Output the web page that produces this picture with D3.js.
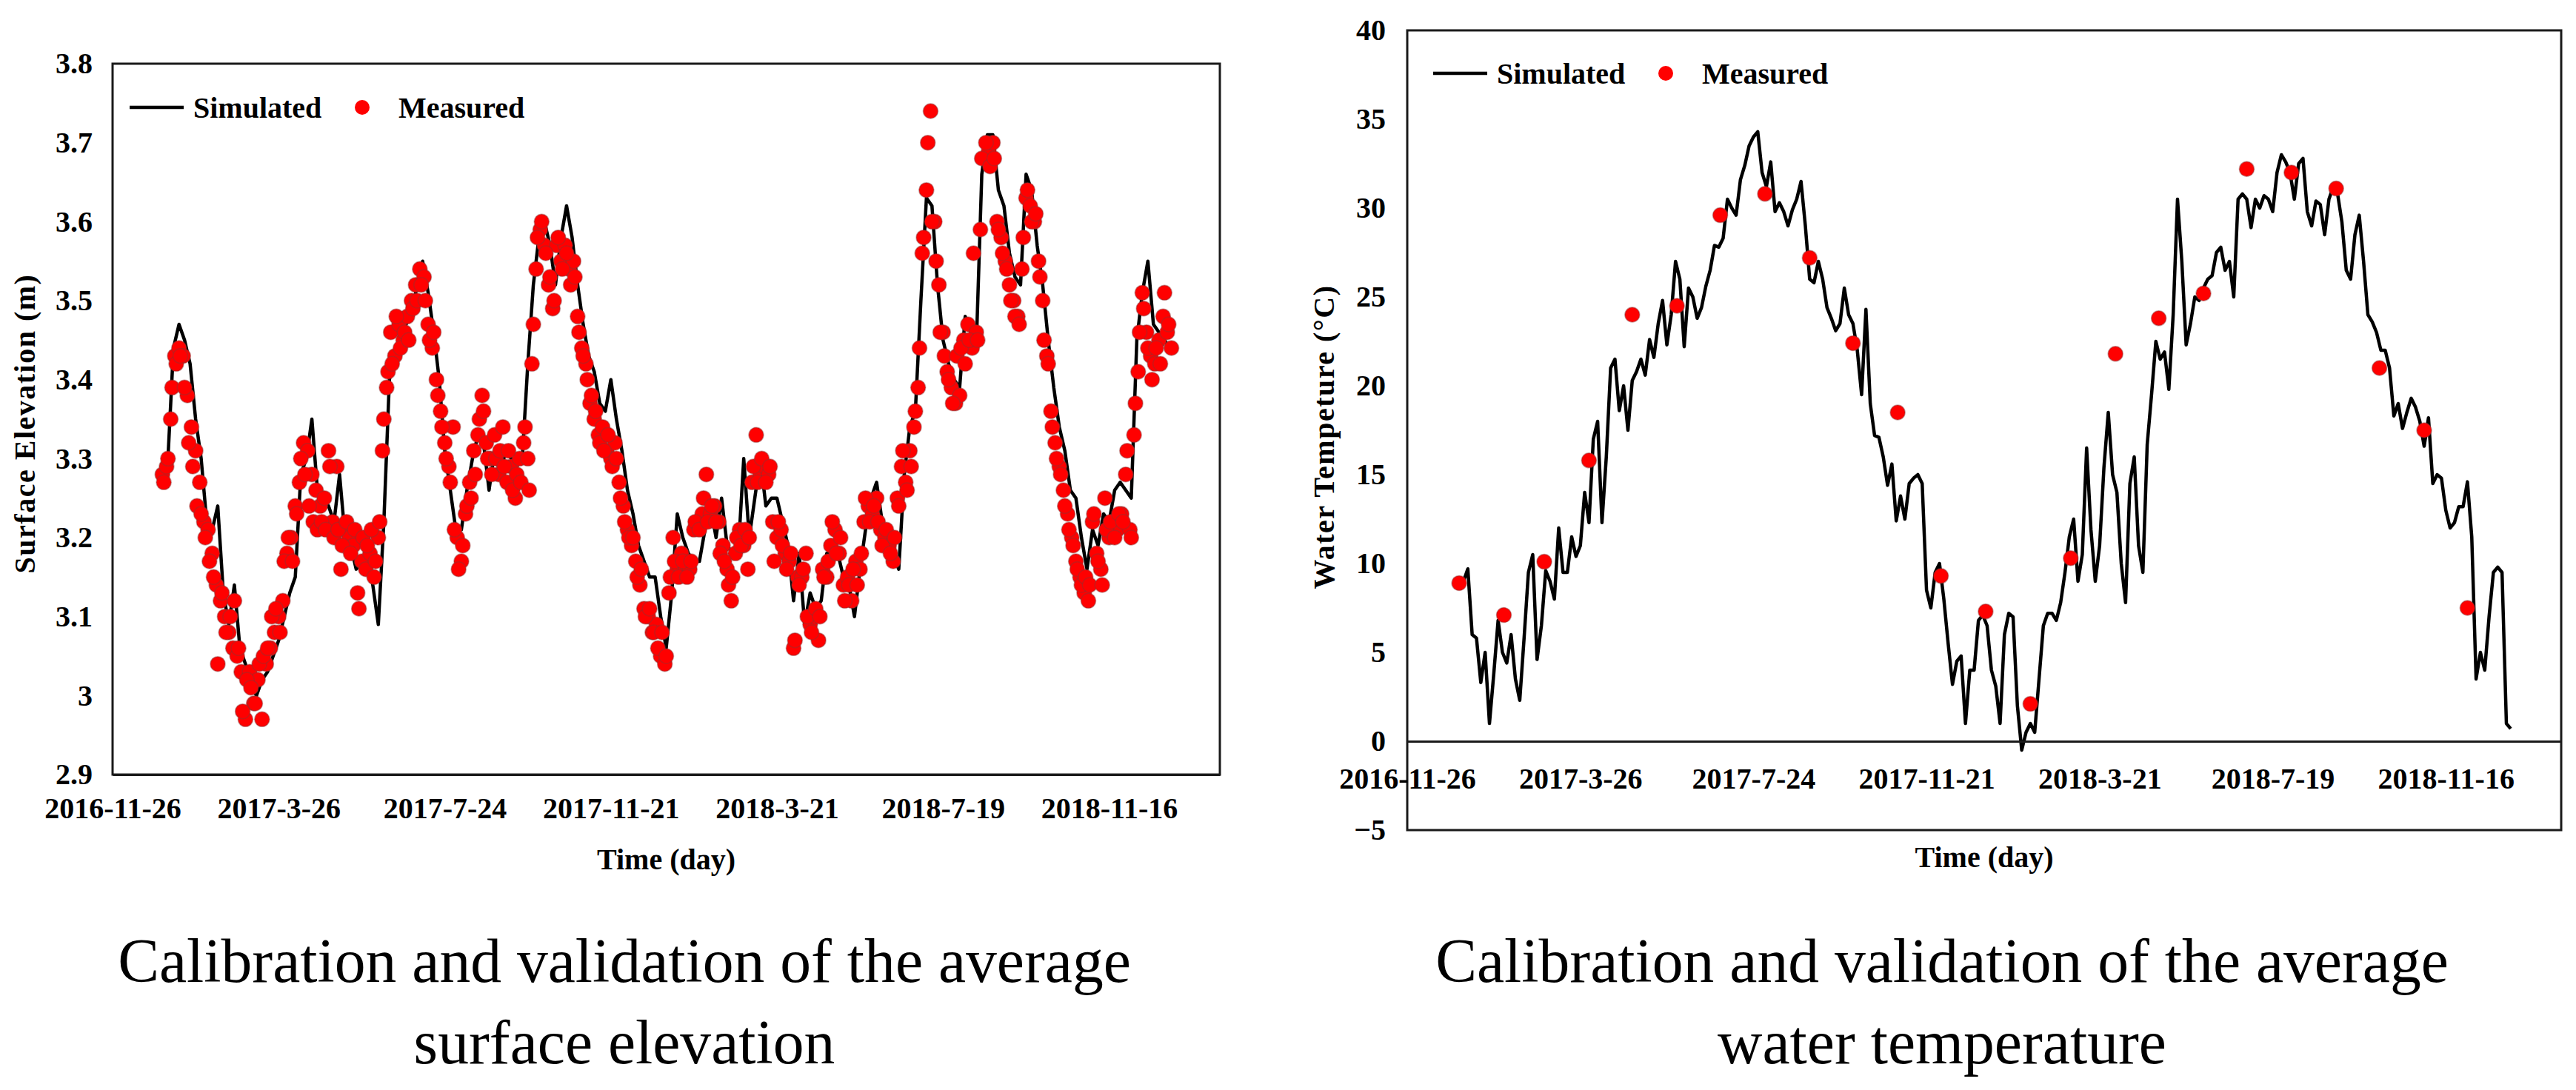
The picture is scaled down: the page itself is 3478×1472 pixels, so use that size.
<!DOCTYPE html>
<html>
<head>
<meta charset="utf-8">
<script src="https://cdn.jsdelivr.net/npm/d3@7"></script>
<style>
  html, body { margin: 0; padding: 0; background: #fff; }
  svg { display: block; }
  .lbl { font-family: "Liberation Serif", "Times New Roman", serif; font-weight: bold; fill: #000; }
  .caption { font-family: "Liberation Serif", "Times New Roman", serif; fill: #000; }
</style>
</head>
<body>
<svg id="chart"></svg>
<script>
// ---- data ----
const axisStart = "2016-11-26"
const axisDays = 800
const xTickLabels = ["2016-11-26", "2017-3-26", "2017-7-24", "2017-11-21", "2018-3-21", "2018-7-19", "2018-11-16"]

const elevationTicks = [2.9, 3, 3.1, 3.2, 3.3, 3.4, 3.5, 3.6, 3.7, 3.8]
const temperatureTicks = [-5, 0, 5, 10, 15, 20, 25, 30, 35, 40]

// surface elevation (m), simulated every 4 days from 2017-01-01
const simElevStart = "2017-01-01"
const simElevStep = 4
const simulatedElevation = [
  3.29, 3.30, 3.44, 3.47, 3.45, 3.42, 3.35, 3.30, 3.22, 3.21,
  3.24, 3.13, 3.09, 3.14, 3.06, 3.04, 3.01, 3.00, 3.02, 3.03,
  3.05, 3.07, 3.10, 3.13, 3.15, 3.28, 3.30, 3.35, 3.26, 3.25,
  3.24, 3.22, 3.28, 3.20, 3.19, 3.16, 3.17, 3.17, 3.14, 3.09,
  3.22, 3.40, 3.43, 3.45, 3.47, 3.48, 3.52, 3.55, 3.51, 3.46,
  3.40, 3.31, 3.26, 3.21, 3.21, 3.26, 3.30, 3.33, 3.32, 3.26,
  3.31, 3.28, 3.31, 3.30, 3.29, 3.30, 3.42,
  3.52, 3.58, 3.60, 3.57, 3.52, 3.58, 3.62, 3.58, 3.52, 3.47,
  3.43, 3.41, 3.37, 3.36, 3.40, 3.35, 3.31, 3.26, 3.23, 3.19,
  3.17, 3.15, 3.15, 3.10, 3.06, 3.13, 3.23, 3.20, 3.18, 3.17,
  3.17, 3.21, 3.24, 3.20, 3.25, 3.19, 3.18, 3.18, 3.30, 3.20,
  3.25, 3.30, 3.24, 3.25, 3.25, 3.22, 3.19, 3.12, 3.18, 3.09,
  3.13, 3.11, 3.12, 3.18, 3.18, 3.18, 3.15, 3.14, 3.10, 3.16,
  3.21, 3.25, 3.27, 3.22, 3.19, 3.18, 3.16,
  3.28, 3.34, 3.36, 3.50, 3.63, 3.62, 3.52, 3.45, 3.42, 3.40,
  3.39, 3.48, 3.46, 3.44, 3.66, 3.71, 3.71, 3.64, 3.62, 3.56,
  3.53, 3.52, 3.66, 3.64, 3.57, 3.52, 3.45, 3.39, 3.34, 3.31,
  3.26, 3.25, 3.20, 3.16, 3.21, 3.19, 3.23, 3.22, 3.26, 3.27,
  3.26, 3.25, 3.45, 3.51, 3.55, 3.47, 3.46, 3.45, 3.44
]

// surface elevation (m), measured: two interleaved runs, each every 3 days
const measElevStep = 3
const measElevStartA = "2017-01-01"
const measuredElevationA = [
  3.28, 3.29, 3.35, 3.43, 3.44, 3.43, 3.38, 3.34, 3.31, 3.27,
  3.22, 3.21, 3.18, 3.14, 3.12, 3.10, 3.08, 3.06, 3.05, 3.03,
  2.97, 3.03, 2.99, 3.02, 2.97, 3.04, 3.06, 3.08, 3.10, 3.12,
  3.18, 3.20, 3.24, 3.27, 3.32, 3.31, 3.28, 3.26, 3.24, 3.25,
  3.31, 3.22, 3.29, 3.16, 3.21, 3.20, 3.19, 3.13, 3.17, 3.16,
  3.18, 3.15, 3.20, 3.31, 3.39, 3.46, 3.43, 3.47, 3.45, 3.48,
  3.50, 3.52, 3.54, 3.53, 3.47, 3.44, 3.40, 3.36, 3.32, 3.29,
  3.34, 3.20, 3.17, 3.23, 3.27, 3.31, 3.33, 3.38, 3.32, 3.30,
  3.33, 3.28, 3.34, 3.27, 3.29, 3.25, 3.30, 3.32,
  3.30, 3.42, 3.54, 3.59, 3.57, 3.52, 3.49, 3.57, 3.55, 3.57,
  3.54, 3.55, 3.48, 3.44, 3.42, 3.37, 3.35, 3.33, 3.34, 3.31,
  3.30, 3.32, 3.27, 3.24, 3.21, 3.19, 3.17, 3.14, 3.11, 3.10,
  3.08, 3.09, 3.05, 3.04, 3.13, 3.20, 3.16, 3.18, 3.16, 3.16,
  3.21, 3.22, 3.23, 3.28, 3.23, 3.24, 3.22, 3.19, 3.16, 3.12,
  3.18, 3.21, 3.19, 3.16, 3.27, 3.33, 3.28, 3.29, 3.28, 3.22,
  3.20, 3.21, 3.18, 3.17, 3.06, 3.15, 3.15, 3.18, 3.09, 3.10,
  3.07, 3.16, 3.15, 3.19, 3.21, 3.18, 3.14, 3.15, 3.12, 3.17,
  3.16, 3.22, 3.24, 3.23, 3.25, 3.21, 3.20, 3.19, 3.17, 3.25,
  3.29,
  3.27, 3.31, 3.34, 3.39, 3.56, 3.64, 3.74, 3.60, 3.52, 3.46,
  3.41, 3.39, 3.37, 3.38, 3.45, 3.47, 3.44, 3.46, 3.59, 3.68,
  3.69, 3.70, 3.60, 3.58, 3.55, 3.52, 3.50, 3.48, 3.54, 3.63,
  3.62, 3.60, 3.55, 3.50, 3.43, 3.36, 3.32, 3.29, 3.26, 3.23,
  3.20, 3.17, 3.15, 3.13, 3.12, 3.22, 3.18, 3.16, 3.25, 3.20,
  3.22, 3.21, 3.23, 3.28, 3.21, 3.33, 3.41, 3.51, 3.46, 3.43,
  3.42, 3.45, 3.48, 3.46, 3.44
]
const measElevStartB = "2017-01-02"
const measuredElevationB = [
  3.27, 3.30, 3.39, 3.42, 3.43, 3.39, 3.32, 3.29, 3.24, 3.23,
  3.20, 3.17, 3.15, 3.04, 3.13, 3.08, 3.10, 3.12, 3.06, 2.98,
  3.02, 3.01, 2.99, 3.04, 3.05, 3.06, 3.10, 3.11, 3.08, 3.17,
  3.20, 3.17, 3.23, 3.30, 3.28, 3.24, 3.22, 3.21, 3.22, 3.21,
  3.29, 3.20, 3.21, 3.19, 3.22, 3.18, 3.21, 3.11, 3.20, 3.19,
  3.21, 3.17, 3.22, 3.35, 3.41, 3.42, 3.48, 3.44, 3.46, 3.45,
  3.49, 3.50, 3.52, 3.50, 3.45, 3.46, 3.38, 3.34, 3.30, 3.27,
  3.21, 3.16, 3.19, 3.24, 3.25, 3.28, 3.35, 3.36, 3.30, 3.28,
  3.30, 3.31, 3.29, 3.31, 3.26, 3.28, 3.27, 3.34,
  3.26, 3.47, 3.58, 3.60, 3.56, 3.53, 3.50, 3.58, 3.54, 3.56,
  3.52, 3.53, 3.46, 3.43, 3.40, 3.38, 3.36, 3.32, 3.31, 3.33,
  3.29, 3.30, 3.25, 3.22, 3.20, 3.20, 3.15, 3.16, 3.10, 3.11,
  3.08, 3.06, 3.08, 3.05, 3.15, 3.17, 3.15, 3.17, 3.15, 3.17,
  3.22, 3.21, 3.25, 3.22, 3.24, 3.22, 3.18, 3.17, 3.14, 3.15,
  3.20, 3.19, 3.21, 3.20, 3.29, 3.27, 3.30, 3.27, 3.29, 3.17,
  3.22, 3.19, 3.16, 3.18, 3.07, 3.14, 3.16, 3.10, 3.08, 3.11,
  3.10, 3.15, 3.17, 3.22, 3.18, 3.20, 3.12, 3.14, 3.16, 3.14,
  3.18, 3.25, 3.22, 3.24, 3.22, 3.19, 3.21, 3.18, 3.20, 3.24,
  3.31,
  3.26, 3.29, 3.36, 3.44, 3.58, 3.70, 3.60, 3.55, 3.46, 3.43,
  3.40, 3.37, 3.43, 3.44, 3.42, 3.45, 3.56, 3.45, 3.68, 3.70,
  3.67, 3.68, 3.59, 3.56, 3.54, 3.50, 3.48, 3.47, 3.58, 3.64,
  3.60, 3.61, 3.53, 3.45, 3.42, 3.34, 3.30, 3.28, 3.24, 3.21,
  3.19, 3.16, 3.14, 3.15, 3.14, 3.23, 3.17, 3.14, 3.21, 3.22,
  3.20, 3.23, 3.22, 3.31, 3.20, 3.37, 3.46, 3.49, 3.44, 3.40,
  3.44, 3.42, 3.51, 3.47
]

// water temperature (°C), simulated every 3 days from 2017-01-01
const simTempStart = "2017-01-01"
const simTempStep = 3
const simulatedTemperature = [
  8.8, 9.0, 9.7, 6.0, 5.8, 3.3, 5.0, 1.0, 3.8, 6.8,
  5.0, 4.4, 6.0, 3.5, 2.3, 5.8, 9.5, 10.5, 4.6, 6.5,
  9.6, 9.0, 8.0, 12.0, 9.5, 9.5, 11.5, 10.4, 11.0, 14.0,
  12.3, 17.0, 18.0, 12.3, 16.0, 21.0, 21.5, 18.6, 20.0, 17.5,
  20.3, 20.8, 21.5, 20.6, 22.6, 21.6, 23.5, 24.8, 22.3, 24.0,
  27.0, 26.0, 22.2, 25.5, 25.0, 23.8, 24.4, 25.6, 26.5, 27.9,
  27.8, 28.3, 30.5, 30.0, 29.6, 31.6, 32.4, 33.5, 34.0, 34.3,
  32.0, 31.2, 32.6, 29.8, 30.3, 29.8, 29.0, 29.9, 30.5, 31.5,
  29.0, 26.0, 25.8, 27.0, 26.0, 24.4, 23.8, 23.1, 23.5, 25.5,
  24.0, 23.5, 22.0, 19.5, 24.3, 19.0, 17.2, 17.1, 16.0, 14.4,
  15.6, 12.4, 13.8, 12.5, 14.5, 14.8, 15.0, 14.5, 8.5, 7.5,
  9.5, 10.0, 8.0, 5.5, 3.2, 4.5, 4.8, 1.0, 4.0,
  4.0, 6.8, 7.1, 6.5, 4.0, 3.1, 1.0, 6.0, 7.2, 7.0,
  2.0, -0.5, 0.5, 1.0, 0.5, 3.5, 6.5, 7.2, 7.2, 6.8,
  7.8, 9.5, 11.5, 12.5, 9.0, 10.5, 16.5, 11.9, 9.0, 11.0,
  15.4, 18.5, 15.0, 14.0, 10.0, 7.8, 14.5, 16.0, 11.0, 9.5,
  16.7, 19.5, 22.5, 21.5, 21.9, 19.8, 24.0, 30.5, 27.0, 22.3,
  23.5, 25.0, 24.8, 25.5, 26.0, 26.2, 27.5, 27.8, 26.5, 27.0,
  25.0, 30.5, 30.8, 30.5, 28.9, 30.5, 30.0, 30.7, 30.5, 29.8,
  32.0, 33.0, 32.6, 32.0, 30.5, 32.5, 32.8, 29.8, 29.0, 30.4,
  30.2, 28.5, 30.5, 31.2, 30.8, 29.2, 26.5, 26.0, 28.5, 29.6,
  27.0, 24.0, 23.6, 23.0, 22.0, 22.0, 21.0, 18.3, 19.0, 17.6,
  18.5, 19.3, 18.8, 18.0, 16.6, 18.2, 14.5, 15.0, 14.8, 13.0,
  12.0, 12.3, 13.2, 13.2, 14.6, 11.5, 3.5, 5.0, 4.0, 7.0,
  9.5, 9.8, 9.5, 1.0, 0.7
]

// water temperature (°C), measured once a month
const measuredTempDates = [
  "2017-01-01", "2017-02-01", "2017-03-01", "2017-04-01", "2017-05-01", "2017-06-01",
  "2017-07-01", "2017-08-01", "2017-09-01", "2017-10-01", "2017-11-01", "2017-12-01",
  "2018-01-01", "2018-02-01", "2018-03-01", "2018-04-01", "2018-05-01", "2018-06-01",
  "2018-07-01", "2018-08-01", "2018-09-01", "2018-10-01", "2018-11-01", "2018-12-01"
]
const measuredTemperature = [
  8.9, 7.1, 10.1, 15.8, 24.0, 24.5, 29.6, 30.8, 27.2, 22.4, 18.5, 9.3,
  7.3, 2.1, 10.3, 21.8, 23.8, 25.2, 32.2, 32.0, 31.1, 21.0, 17.5, 7.5
]

// ---- drawing ----
const width = 3478
const height = 1472
const parseDate = d3.utcParse("%Y-%m-%d")
const axisStartDate = parseDate(axisStart)
const tickDates = xTickLabels.map(parseDate)

function toSeries(values, start, step) {
  const t0 = parseDate(start)
  return values.map((v, i) => ({ date: d3.utcDay.offset(t0, i * step), value: v }))
}

const svg = d3.select('#chart')
  .attr('width', width)
  .attr('height', height)
  .attr('viewBox', [0, 0, width, height])

svg.append('rect').attr('width', width).attr('height', height).attr('fill', '#fff')

function drawPanel(cfg) {
  const g = svg.append('g')

  const x = d3.scaleUtc()
    .domain([axisStartDate, d3.utcDay.offset(axisStartDate, axisDays)])
    .range([cfg.left, cfg.right])
  const y = d3.scaleLinear()
    .domain(cfg.yDomain)
    .range([cfg.bottom, cfg.top])

  // simulated line
  g.append('path')
    .datum(cfg.simulated)
    .attr('fill', 'none')
    .attr('stroke', '#000')
    .attr('stroke-width', 4.5)
    .attr('stroke-linejoin', 'round')
    .attr('d', d3.line().x(d => x(d.date)).y(d => y(d.value)))

  // measured points
  g.append('g')
    .selectAll('circle')
    .data(cfg.measured)
    .join('circle')
    .attr('cx', d => x(d.date))
    .attr('cy', d => y(d.value))
    .attr('r', cfg.markerR)
    .attr('fill', '#ff0000')
    .attr('stroke', 'rgba(140,50,50,0.45)')
    .attr('stroke-width', 1.5)

  // plot frame
  g.append('rect')
    .attr('x', cfg.left)
    .attr('y', cfg.top)
    .attr('width', cfg.right - cfg.left)
    .attr('height', cfg.bottom - cfg.top)
    .attr('fill', 'none')
    .attr('stroke', '#1a1a1a')
    .attr('stroke-width', 3)

  // y axis labels
  g.append('g')
    .attr('transform', `translate(${cfg.left},0)`)
    .call(d3.axisLeft(y).tickValues(cfg.yTicks).tickSize(0).tickPadding(cfg.yLabelPad).tickFormat(d3.format('')))
    .call(a => a.select('.domain').remove())
    .call(a => a.selectAll('text').attr('class', 'lbl').style('font-size', '40px'))

  // x axis (sits on y = xAxisValue)
  const xAxisY = y(cfg.xAxisValue)
  g.append('g')
    .attr('transform', `translate(0,${xAxisY})`)
    .call(d3.axisBottom(x).tickValues(tickDates).tickSize(0).tickSizeOuter(0).tickPadding(cfg.xLabelPad)
      .tickFormat((d, i) => xTickLabels[i]))
    .call(a => a.select('.domain').attr('stroke', '#1a1a1a').attr('stroke-width', 3))
    .call(a => a.selectAll('text').attr('class', 'lbl').style('font-size', '40px'))

  // axis titles
  g.append('text')
    .attr('class', 'lbl')
    .attr('x', (cfg.left + cfg.right) / 2)
    .attr('y', cfg.timeTitleY)
    .attr('text-anchor', 'middle')
    .attr('dominant-baseline', 'central')
    .style('font-size', '40px')
    .text('Time (day)')

  g.append('text')
    .attr('class', 'lbl')
    .attr('transform', `translate(${cfg.yTitleX},${cfg.yTitleY}) rotate(-90)`)
    .attr('text-anchor', 'middle')
    .attr('dominant-baseline', 'central')
    .style('font-size', '40px')
    .style('letter-spacing', '1.5px')
    .text(cfg.yTitle)

  // legend
  const lg = g.append('g').attr('transform', `translate(0,${cfg.legendY})`)
  lg.append('line')
    .attr('x1', cfg.legendX).attr('x2', cfg.legendX + 73)
    .attr('stroke', '#000').attr('stroke-width', 4.5)
  lg.append('text')
    .attr('class', 'lbl')
    .attr('x', cfg.legendX + 86)
    .attr('dominant-baseline', 'central')
    .style('font-size', '40px')
    .text('Simulated')
  lg.append('circle')
    .attr('cx', cfg.legendX + 314)
    .attr('r', cfg.markerR)
    .attr('fill', '#ff0000')
  lg.append('text')
    .attr('class', 'lbl')
    .attr('x', cfg.legendX + 363)
    .attr('dominant-baseline', 'central')
    .style('font-size', '40px')
    .text('Measured')

  // caption under the panel
  const cap = g.append('g').attr('class', 'caption')
  const lines = cfg.caption.map((t, i) => cap.append('text')
    .attr('x', cfg.captionX)
    .attr('y', cfg.captionY[i])
    .attr('text-anchor', 'middle')
    .style('font-size', '78px')
    .text(t))
  const len = lines[0].node().getComputedTextLength()
  const fs = 78 * cfg.captionWidth / len
  lines.forEach(l => l.style('font-size', fs + 'px'))
}

drawPanel({
  left: 152, right: 1647, top: 86, bottom: 1046,
  yDomain: [2.9, 3.8], yTicks: elevationTicks, yLabelPad: 27,
  xAxisValue: 2.9, xLabelPad: 31,
  simulated: toSeries(simulatedElevation, simElevStart, simElevStep),
  measured: toSeries(measuredElevationA, measElevStartA, measElevStep)
    .concat(toSeries(measuredElevationB, measElevStartB, measElevStep)),
  markerR: 10,
  timeTitleY: 1160,
  yTitle: 'Surface Elevation (m)', yTitleX: 33, yTitleY: 572,
  legendX: 175, legendY: 145,
  caption: ['Calibration and validation of the average', 'surface elevation'],
  captionX: 843, captionY: [1326, 1436], captionWidth: 1368
})

drawPanel({
  left: 1900, right: 3458, top: 41, bottom: 1121,
  yDomain: [-5, 40], yTicks: temperatureTicks, yLabelPad: 29,
  xAxisValue: 0, xLabelPad: 36,
  simulated: toSeries(simulatedTemperature, simTempStart, simTempStep),
  measured: measuredTempDates.map((d, i) => ({ date: parseDate(d), value: measuredTemperature[i] })),
  markerR: 10,
  timeTitleY: 1157,
  yTitle: 'Water Tempeture (°C)', yTitleX: 1787, yTitleY: 590,
  legendX: 1935, legendY: 99,
  caption: ['Calibration and validation of the average', 'water temperature'],
  captionX: 2622, captionY: [1326, 1436], captionWidth: 1368
})
</script>
</body>
</html>
